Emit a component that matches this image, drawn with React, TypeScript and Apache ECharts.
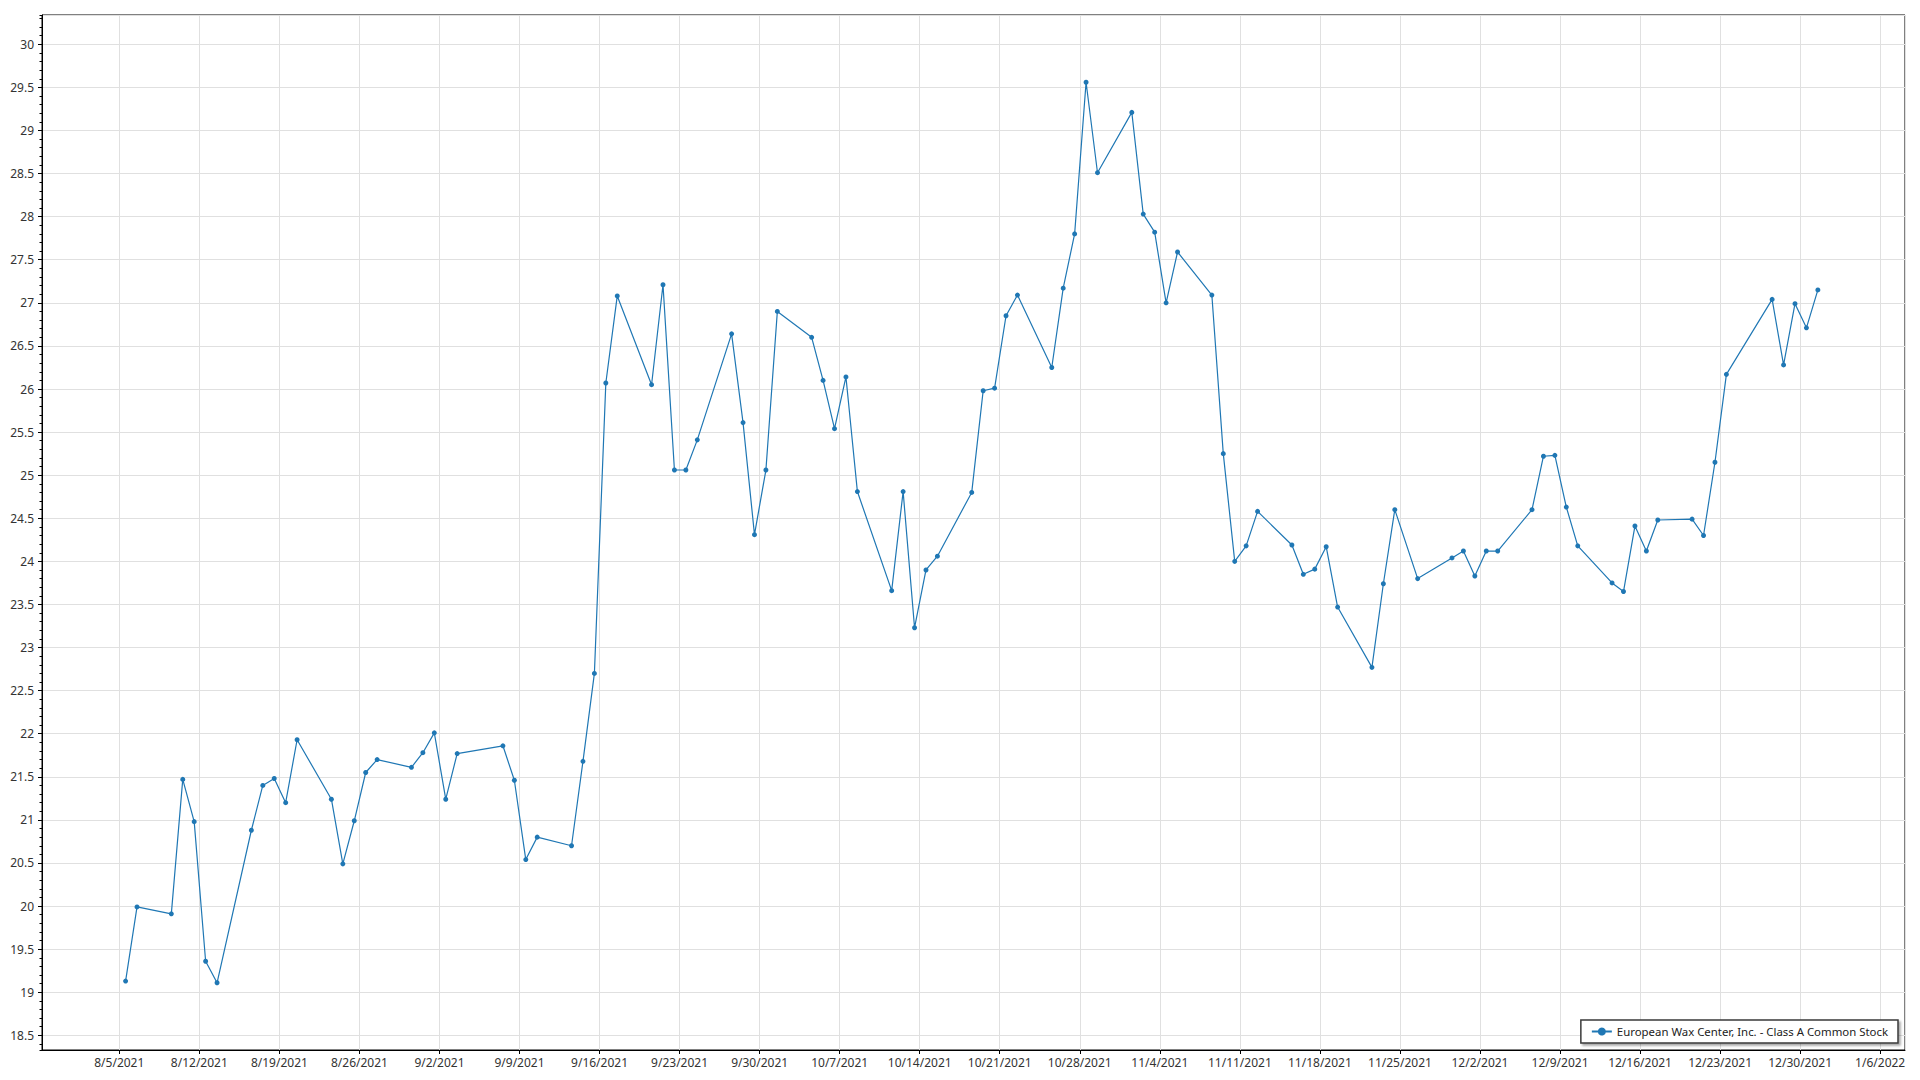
import React, { useEffect, useRef } from "react";
import * as echarts from "echarts";

// Trading dates (YYYY-MM-DD) and closing prices
const dates: string[] = [
  "2021-08-05", "2021-08-06", "2021-08-09", "2021-08-10", "2021-08-11", "2021-08-12", "2021-08-13",
  "2021-08-16", "2021-08-17", "2021-08-18", "2021-08-19", "2021-08-20",
  "2021-08-23", "2021-08-24", "2021-08-25", "2021-08-26", "2021-08-27",
  "2021-08-30", "2021-08-31", "2021-09-01", "2021-09-02", "2021-09-03",
  "2021-09-07", "2021-09-08", "2021-09-09", "2021-09-10",
  "2021-09-13", "2021-09-14", "2021-09-15", "2021-09-16", "2021-09-17",
  "2021-09-20", "2021-09-21", "2021-09-22", "2021-09-23", "2021-09-24",
  "2021-09-27", "2021-09-28", "2021-09-29", "2021-09-30", "2021-10-01",
  "2021-10-04", "2021-10-05", "2021-10-06", "2021-10-07", "2021-10-08",
  "2021-10-11", "2021-10-12", "2021-10-13", "2021-10-14", "2021-10-15",
  "2021-10-18", "2021-10-19", "2021-10-20", "2021-10-21", "2021-10-22",
  "2021-10-25", "2021-10-26", "2021-10-27", "2021-10-28", "2021-10-29",
  "2021-11-01", "2021-11-02", "2021-11-03", "2021-11-04", "2021-11-05",
  "2021-11-08", "2021-11-09", "2021-11-10", "2021-11-11", "2021-11-12",
  "2021-11-15", "2021-11-16", "2021-11-17", "2021-11-18", "2021-11-19",
  "2021-11-22", "2021-11-23", "2021-11-24", "2021-11-26",
  "2021-11-29", "2021-11-30", "2021-12-01", "2021-12-02", "2021-12-03",
  "2021-12-06", "2021-12-07", "2021-12-08", "2021-12-09", "2021-12-10",
  "2021-12-13", "2021-12-14", "2021-12-15", "2021-12-16", "2021-12-17",
  "2021-12-20", "2021-12-21", "2021-12-22", "2021-12-23",
  "2021-12-27", "2021-12-28", "2021-12-29", "2021-12-30", "2021-12-31",
];

const prices: number[] = [
  19.13, 19.99, 19.91, 21.47, 20.98, 19.36, 19.11,
  20.88, 21.40, 21.48, 21.20, 21.93,
  21.24, 20.49, 20.99, 21.55, 21.70,
  21.61, 21.78, 22.01, 21.24, 21.77,
  21.86, 21.46, 20.54, 20.80,
  20.70, 21.68, 22.70, 26.07, 27.08,
  26.05, 27.21, 25.06, 25.06, 25.41,
  26.64, 25.61, 24.31, 25.06, 26.90,
  26.60, 26.10, 25.54, 26.14, 24.81,
  23.66, 24.81, 23.23, 23.90, 24.06,
  24.80, 25.98, 26.01, 26.85, 27.09,
  26.25, 27.17, 27.80, 29.56, 28.51,
  29.21, 28.03, 27.82, 27.00, 27.59,
  27.09, 25.25, 24.00, 24.18, 24.58,
  24.19, 23.85, 23.91, 24.17, 23.47,
  22.77, 23.74, 24.60, 23.80,
  24.04, 24.12, 23.83, 24.12, 24.12,
  24.60, 25.22, 25.23, 24.63, 24.18,
  23.75, 23.65, 24.41, 24.12, 24.48,
  24.49, 24.30, 25.15, 26.17,
  27.04, 26.28, 26.99, 26.71, 27.15,
];

const seriesName = "European Wax Center, Inc. - Class A Common Stock";

// Axis extents (x in days relative to 2021-08-05, y in price)
const X_MIN = -6.76;
const X_MAX = 156.17;
const X_STEP = 7;
const Y_MIN = 18.33;
const Y_MAX = 30.34;
const Y_STEP = 0.5;
const Y_MINOR_STEP = 0.1;

const DAY = 86400000;
const ORIGIN = Date.UTC(2021, 7, 5);
const POINT_OFFSET_DAYS = 0.55;

function toDays(s: string): number {
  const [y, m, d] = s.split("-").map(Number);
  return (Date.UTC(y, m - 1, d) - ORIGIN) / DAY + POINT_OFFSET_DAYS;
}

function fmtDate(v: number): string {
  const dt = new Date(ORIGIN + Math.round(v) * DAY);
  return `${dt.getUTCMonth() + 1}/${dt.getUTCDate()}/${dt.getUTCFullYear()}`;
}

const FONT = "'Noto Sans', 'Open Sans', sans-serif";
const LINE_COLOR = "#1f77b4";

export default function App() {
  const ref = useRef<HTMLDivElement>(null);

  useEffect(() => {
    if (!ref.current) return;
    const chart = echarts.init(ref.current, undefined, { renderer: "svg" });
    const data = dates.map((d, i) => [toDays(d), prices[i]]);

    chart.setOption({
      animation: false,
      backgroundColor: "#ffffff",
      grid: {
        left: 42,
        right: 15,
        top: 15,
        bottom: 30,
        containLabel: false,
        show: true,
        borderColor: "#000",
        borderWidth: 1,
        backgroundColor: "transparent",
      },
      xAxis: {
        type: "value",
        min: X_MIN,
        max: X_MAX,
        minInterval: X_STEP,
        maxInterval: X_STEP,
        splitNumber: 24,
        axisLine: { show: true, onZero: false, lineStyle: { color: "#000", width: 1 } },
        axisTick: { show: true, length: 4, lineStyle: { color: "#000" } },
        axisLabel: {
          show: true,
          showMinLabel: false,
          showMaxLabel: false,
          margin: 6,
          color: "#333",
          fontSize: 12,
          fontFamily: FONT,
          formatter: (v: number) => fmtDate(v),
        },
        splitLine: { show: true, lineStyle: { color: "#e0e0e0", width: 1 } },
      },
      yAxis: [
        {
          type: "value",
          position: "left",
          min: Y_MIN,
          max: Y_MAX,
          minInterval: Y_STEP,
          maxInterval: Y_STEP,
          splitNumber: 24,
          axisLine: { show: true, onZero: false, lineStyle: { color: "#000", width: 1 } },
          axisTick: { show: true, length: 4, lineStyle: { color: "#000" } },
          axisLabel: {
            show: true,
            showMinLabel: false,
            showMaxLabel: false,
            margin: 8,
            color: "#333",
            fontSize: 12,
            fontFamily: FONT,
          },
          splitLine: { show: true, lineStyle: { color: "#e0e0e0", width: 1 } },
        },
        {
          type: "value",
          position: "left",
          min: Y_MIN,
          max: Y_MAX,
          minInterval: Y_MINOR_STEP,
          maxInterval: Y_MINOR_STEP,
          splitNumber: 120,
          axisLine: { show: false, onZero: false },
          axisTick: { show: true, length: 2.5, lineStyle: { color: "#000" } },
          axisLabel: { show: false },
          splitLine: { show: false },
        },
      ],
      legend: {
        show: true,
        right: 22,
        bottom: 37,
        orient: "horizontal",
        backgroundColor: "#fff",
        borderColor: "#3a3a3a",
        borderWidth: 1.5,
        padding: [6, 10, 6, 10],
        itemWidth: 20,
        itemHeight: 10,
        itemGap: 5,
        shadowColor: "rgba(0,0,0,0.35)",
        shadowBlur: 2,
        shadowOffsetX: 2,
        shadowOffsetY: 2,
        textStyle: { fontSize: 11.4, color: "#222", fontFamily: FONT },
        data: [seriesName],
      },
      series: [
        {
          name: seriesName,
          type: "line",
          yAxisIndex: 0,
          data,
          symbol: "circle",
          symbolSize: 5,
          showSymbol: true,
          lineStyle: { color: LINE_COLOR, width: 1.2 },
          itemStyle: { color: LINE_COLOR },
        },
      ],
    });

    return () => chart.dispose();
  }, []);

  return (
    <div
      ref={ref}
      style={{ position: "fixed", left: 0, top: 0, width: 1920, height: 1080, background: "#fff" }}
    />
  );
}
